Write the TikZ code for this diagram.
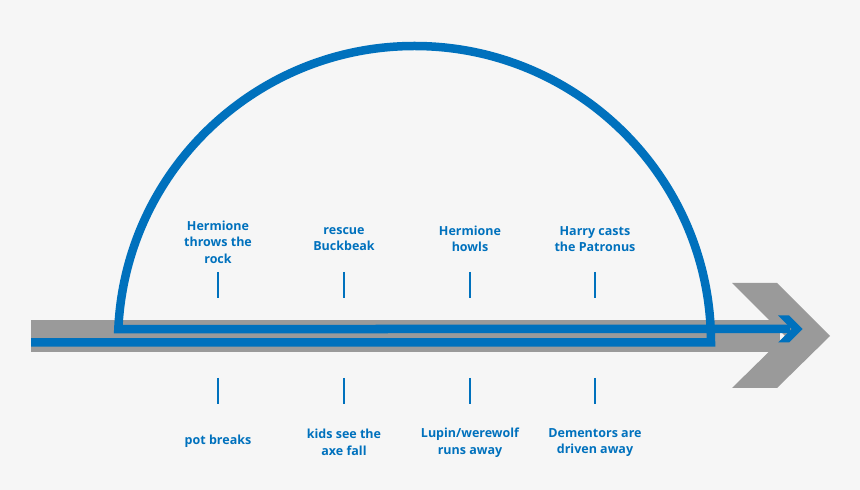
\documentclass[tikz,border=0pt]{standalone}
\usepackage{fontspec}
\setmainfont{Open Sans}
\definecolor{bg}{HTML}{F6F6F6}
\definecolor{band}{HTML}{9A9A9A}
\definecolor{tblue}{HTML}{0071BD}
\begin{document}
\begin{tikzpicture}[x=1pt,y=1pt,
  lbl/.style={text=tblue,font=\fontsize{12.5}{16.5}\selectfont\bfseries,align=center,inner sep=0pt},
  tick/.style={draw=tblue,line width=2pt},
  flow/.style={draw=tblue,line width=8.5pt,miter limit=10}]
\fill[bg] (0,0) rectangle (860,490);
\useasboundingbox (0,0) rectangle (860,490);
% grey band and chevron
\fill[band] (31,138) rectangle (780,170);
\fill[band] (732,207) -- (777,207) -- (830,154) -- (777,102) -- (732,102) -- (785,154) -- cycle;
% blue flow path
\coordinate (start) at (31,147.5);
\coordinate (rb) at (711,147.5);
\coordinate (notch) at (790,161);
\draw[flow] (start) -- (rb) arc[start angle=0,end angle=177.39,radius=296.5] -- (notch);
\fill[tblue] (778,174.5) -- (789,174.5) -- (802.5,161) -- (789,147.5) -- (778,147.5) -- (791.5,161) -- cycle;
% ticks
\foreach \n/\x in {a/218,b/344,c/470,d/595}{
  \coordinate (u\n1) at (\x,218); \coordinate (u\n2) at (\x,192);
  \coordinate (d\n1) at (\x,112); \coordinate (d\n2) at (\x,86);
  \draw[tick] (u\n1) -- (u\n2);
  \draw[tick] (d\n1) -- (d\n2);
}
% labels
\node[lbl] (t1) at (218,248) {Hermione\\throws the\\rock};
\node[lbl] (t2) at (344,251) {rescue\\Buckbeak};
\node[lbl] (t3) at (470,251) {Hermione\\howls};
\node[lbl] (t4) at (595,251) {Harry casts\\the Patronus};
\node[lbl] (b1) at (218,49) {pot breaks};
\node[lbl] (b2) at (344,47.5) {kids see the\\axe fall};
\node[lbl] (b3) at (470,47.5) {Lupin/werewolf\\runs away};
\node[lbl] (b4) at (595,47.5) {Dementors are\\driven away};
\end{tikzpicture}
\end{document}
